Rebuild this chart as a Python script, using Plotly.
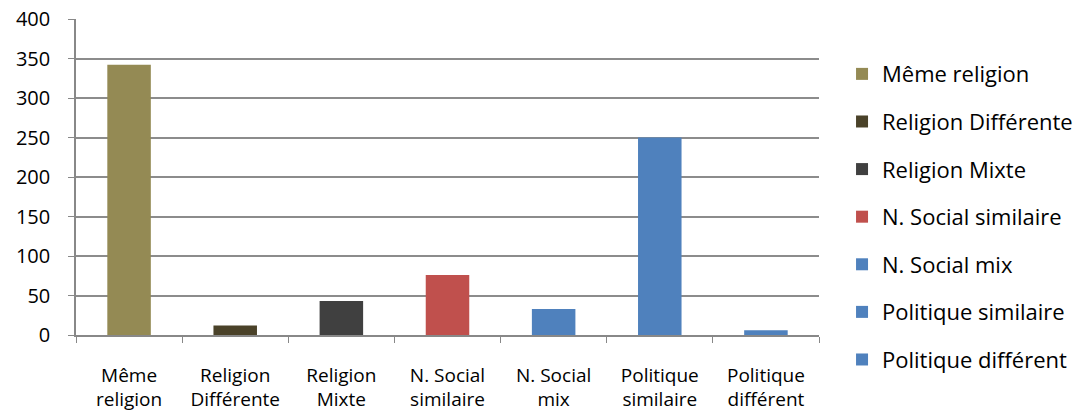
import plotly.graph_objects as go

categories = ["Même religion", "Religion Différente", "Religion Mixte", "N. Social similaire",
              "N. Social mix", "Politique similaire", "Politique différent"]
tick_labels = ["Même<br>religion", "Religion<br>Différente", "Religion<br>Mixte", "N. Social<br>similaire",
               "N. Social<br>mix", "Politique<br>similaire", "Politique<br>différent"]
values = [342, 12, 43, 76, 33, 250, 6]
colors = ["#948A54", "#4A4229", "#404040", "#C0504D", "#4F81BD", "#4F81BD", "#4F81BD"]

FONT = "Open Sans"
fig = go.Figure()
for i, (cat, v, c) in enumerate(zip(categories, values, colors)):
    fig.add_trace(go.Bar(
        x=[cat], y=[v], name=cat, width=0.41,
        marker=dict(color=c, line=dict(width=0)),
        legendgroup=f"g{i}",
    ))

fig.update_layout(
    width=1075, height=408,
    margin=dict(l=68, r=264, t=11, b=81, autoexpand=False),
    paper_bgcolor="white", plot_bgcolor="white",
    barmode="overlay",
    font=dict(family=FONT, color="#000000"),
    showlegend=True,
    legend=dict(x=1.031, y=0.8895, xanchor="left", yanchor="top", yref="container",
                font=dict(size=22, family=FONT), tracegroupgap=16, maxheight=400,
                itemwidth=30, bgcolor="rgba(0,0,0,0)"),
)
fig.update_xaxes(
    type="category", categoryorder="array", categoryarray=categories,
    tickvals=categories, ticktext=tick_labels,
    tickson="boundaries", ticks="outside", ticklen=6, tickcolor="#888888",
    showline=True, linecolor="#888888", linewidth=1.5,
    tickfont=dict(size=19, family=FONT), showgrid=False,
    automargin=False, ticklabelstandoff=22,
)
fig.update_yaxes(
    range=[0, 400], dtick=50, tick0=0,
    showgrid=True, gridcolor="#8C8C8C", gridwidth=1.5,
    ticks="outside", ticklen=6, tickcolor="#888888",
    showline=True, linecolor="#888888", linewidth=1.5,
    tickfont=dict(size=20, family=FONT), zeroline=False,
    automargin=False, ticklabelstandoff=14, ticklabeloverflow="allow",
)
fig.write_html("out.html")
